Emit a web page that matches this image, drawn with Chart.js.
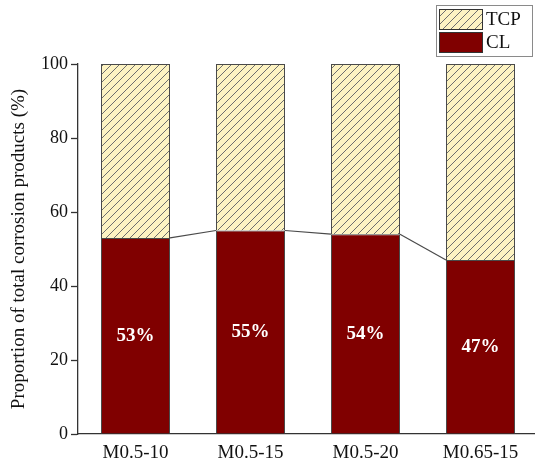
<!DOCTYPE html>
<html>
<head>
<meta charset="utf-8">
<script src="https://cdn.jsdelivr.net/npm/chart.js@4/dist/chart.umd.min.js"></script>
<style>
  html, body { margin: 0; padding: 0; background: #fff; overflow: hidden; }
  #wrap { width: 540px; height: 463px; }
</style>
</head>
<body>
<div id="wrap"><canvas id="c" width="540" height="463"></canvas></div>
<script>
// Mix groups and the share of each product type (%)
const categories = ['M0.5-10', 'M0.5-15', 'M0.5-20', 'M0.65-15'];
const clShare = [53, 55, 54, 47];
const tcpShare = [47, 45, 46, 53];
const yTicks = [0, 20, 40, 60, 80, 100];

const SERIF = '"Liberation Serif", "Times New Roman", serif';

// Diagonal hatch fill for TCP
function makeHatch() {
  const s = 8;
  const c = document.createElement('canvas');
  c.width = s; c.height = s;
  const g = c.getContext('2d');
  g.fillStyle = '#fdf3c2';
  g.fillRect(0, 0, s, s);
  g.strokeStyle = '#6e6e6e';
  g.lineWidth = 1;
  g.beginPath();
  g.moveTo(0, s); g.lineTo(s, 0);
  g.moveTo(-s / 2, s / 2); g.lineTo(s / 2, -s / 2);
  g.moveTo(s / 2, s * 1.5); g.lineTo(s * 1.5, s / 2);
  g.stroke();
  return g.createPattern(c, 'repeat');
}
const hatch = makeHatch();

// Thin lines joining the tops of the CL segments
const connectors = {
  id: 'connectors',
  afterDatasetsDraw(chart) {
    const bars = chart.getDatasetMeta(0).data;
    const ctx = chart.ctx;
    ctx.save();
    ctx.strokeStyle = '#4a4a4a';
    ctx.lineWidth = 1.2;
    for (let i = 0; i < bars.length - 1; i++) {
      const a = bars[i], b = bars[i + 1];
      ctx.beginPath();
      ctx.moveTo(a.x + a.width / 2, a.y);
      ctx.lineTo(b.x - b.width / 2, b.y);
      ctx.stroke();
    }
    ctx.restore();
  }
};

// Percentage labels inside the CL segments
const valueLabels = {
  id: 'valueLabels',
  afterDatasetsDraw(chart) {
    const bars = chart.getDatasetMeta(0).data;
    const ctx = chart.ctx;
    ctx.save();
    ctx.fillStyle = '#ffffff';
    ctx.font = 'bold 19px ' + SERIF;
    ctx.textAlign = 'center';
    ctx.textBaseline = 'middle';
    bars.forEach((el, i) => {
      ctx.fillText(clShare[i] + '%', el.x, (el.y + el.base) / 2);
    });
    ctx.restore();
  }
};

// Boxed legend in the top-right corner
const boxLegend = {
  id: 'boxLegend',
  afterDraw(chart) {
    const ctx = chart.ctx;
    const ds = chart.data.datasets;
    const order = [1, 0];
    const bx = 436, by = 5, bw = 96, bh = 51;
    ctx.save();
    ctx.fillStyle = '#fff';
    ctx.fillRect(bx, by, bw, bh);
    ctx.strokeStyle = '#8a8a8a';
    ctx.lineWidth = 1;
    ctx.strokeRect(bx + 0.5, by + 0.5, bw, bh);
    ctx.font = '19px ' + SERIF;
    ctx.textBaseline = 'middle';
    ctx.textAlign = 'left';
    order.forEach((k, j) => {
      const sy = 9 + j * 23;
      ctx.fillStyle = ds[k].backgroundColor;
      ctx.fillRect(439, sy, 43, 20);
      ctx.strokeStyle = '#333';
      ctx.strokeRect(439.5, sy + 0.5, 43, 20);
      ctx.fillStyle = '#111';
      ctx.fillText(ds[k].label, 486, sy + 11);
    });
    ctx.restore();
  }
};

new Chart(document.getElementById('c'), {
  type: 'bar',
  data: {
    labels: categories,
    datasets: [
      { label: 'CL', data: clShare, backgroundColor: '#800000', borderColor: '#4a4a4a', borderWidth: 1 },
      { label: 'TCP', data: tcpShare, backgroundColor: hatch, borderColor: '#4a4a4a', borderWidth: 1 }
    ]
  },
  options: {
    responsive: false,
    animation: false,
    devicePixelRatio: 1,
    layout: { padding: { top: 64, right: 2, left: 0, bottom: 0 } },
    datasets: { bar: { barPercentage: 0.6, categoryPercentage: 1 } },
    plugins: { legend: { display: false }, tooltip: { enabled: false } },
    scales: {
      x: {
        stacked: true,
        grid: { display: false },
        border: { display: true, color: '#333', width: 1.3 },
        ticks: { color: '#111', font: { family: SERIF, size: 19 }, padding: 0 },
        afterFit(s) { s.height = 29; }
      },
      y: {
        stacked: true,
        min: 0, max: 100,
        afterBuildTicks(s) { s.ticks = yTicks.map(v => ({ value: v })); },
        grid: { drawOnChartArea: false, drawTicks: true, tickLength: 7, color: '#333', tickWidth: 1.3 },
        border: { display: true, color: '#333', width: 1.3 },
        ticks: { color: '#111', font: { family: SERIF, size: 18 }, padding: 3 },
        title: {
          display: true,
          text: 'Proportion of total corrosion products (%)',
          color: '#111',
          font: { family: SERIF, size: 19 },
          padding: { top: 8, bottom: 0 }
        },
        afterFit(s) { s.width = 78; }
      }
    }
  },
  plugins: [connectors, valueLabels, boxLegend]
});
</script>
</body>
</html>
